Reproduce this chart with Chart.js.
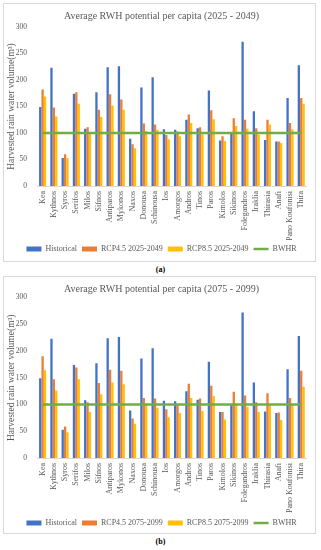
<!DOCTYPE html>
<html>
<head>
<meta charset="utf-8">
<script src="https://cdn.jsdelivr.net/npm/chart.js@4.4.0/dist/chart.umd.min.js"></script>
<style>
  html, body { margin: 0; padding: 0; background: #ffffff; }
  body { width: 321px; height: 550px; position: relative; overflow: hidden; font-family: "Liberation Serif", serif; }
  .frame { position: absolute; box-sizing: border-box; border: 1px solid #D9D9D9; }
  canvas { position: absolute; }
  .cap { position: absolute; left: 0; width: 321px; text-align: center; font-family: "Liberation Serif", serif; font-weight: bold; font-size: 8px; color: #000; }
</style>
</head>
<body>
<div class="frame" style="left:3px;top:3px;width:313px;height:259px;"></div>
<canvas id="chartA" width="313" height="260" style="left:3px;top:3px;"></canvas>
<div class="cap" style="top:265px;">(a)</div>
<div class="frame" style="left:3px;top:276px;width:313px;height:258px;"></div>
<canvas id="chartB" width="313" height="261" style="left:3px;top:276px;"></canvas>
<div class="cap" style="top:537px;">(b)</div>
<script>
const categories = ['Kea','Kythnos','Syros','Serifos','Milos','Sifnos','Antiparos','Mykonos','Naxos','Donousa','Schinousa','Ios','Amorgos','Andros','Tinos','Paros','Kimolos','Sikinos','Folegandros','Iraklia','Thirasia','Anafi','Pano Koufonisi','Thira'];

const historical = [149, 223, 53, 174, 108, 177, 224, 226, 89, 186, 205, 107, 106, 125, 109, 180, 86, 99, 272, 141, 87, 84, 166, 228];

const rcp45_2049 = [182, 148, 60, 177, 111, 144, 173, 163, 79, 118, 116, 96, 103, 135, 111, 143, 94, 128, 125, 109, 125, 84, 119, 166];
const rcp85_2049 = [169, 131, 53, 155, 99, 130, 152, 144, 71, 104, 106, 88, 94, 119, 97, 126, 85, 113, 108, 97, 116, 81, 107, 155];

const rcp45_2099 = [190, 147, 59, 169, 104, 140, 165, 163, 74, 112, 111, 91, 99, 139, 111, 135, 86, 124, 117, 104, 121, 85, 112, 163];
const rcp85_2099 = [164, 126, 48, 147, 86, 119, 141, 138, 64, 99, 94, 76, 84, 112, 88, 116, 72, 102, 96, 86, 99, 71, 99, 133];

const bwhr = [100, 100, 100, 100, 100, 100, 100, 100, 100, 100, 100, 100, 100, 100, 100, 100, 100, 100, 100, 100, 100, 100, 100, 100];

const yTicks = [0, 50, 100, 150, 200, 250, 300];

const seriesNames = {
  a: ['Historical', 'RCP4.5 2025-2049', 'RCP8.5 2025-2049', 'BWHR'],
  b: ['Historical', 'RCP4.5 2075-2099', 'RCP8.5 2075-2099', 'BWHR']
};
const titles = {
  a: 'Average RWH potential per capita (2025 - 2049)',
  b: 'Average RWH potential per capita (2075 - 2099)'
};
const yTitle = 'Harvested rain water volume(m\u00B3)';

const COL = { blue: '#4472C4', orange: '#ED7D31', yellow: '#FFC000', green: '#70AD47', text: '#595959' };
const FAM = '"Liberation Serif", "Times New Roman", serif';

function makeChart(id, key, r45, r85, lay) {
  const names = seriesNames[key];
  const barCommon = { categoryPercentage: 0.64, barPercentage: 0.96, borderWidth: 0, pointStyle: 'rect', order: 1 };
  return new Chart(document.getElementById(id), {
    type: 'bar',
    data: {
      labels: categories,
      datasets: [
        Object.assign({ label: names[0], data: historical, backgroundColor: COL.blue }, barCommon),
        Object.assign({ label: names[1], data: r45, backgroundColor: COL.orange }, barCommon),
        Object.assign({ label: names[2], data: r85, backgroundColor: COL.yellow }, barCommon),
        { type: 'line', label: names[3], data: bwhr, borderColor: COL.green, backgroundColor: COL.green,
          borderWidth: 2.5, pointRadius: 0, pointStyle: 'line', order: 0, tension: 0 }
      ]
    },
    options: {
      responsive: false,
      animation: false,
      devicePixelRatio: 1,
      layout: { padding: { left: 12, right: 8, top: 0, bottom: 0 } },
      plugins: {
        tooltip: { enabled: false },
        title: {
          display: true, text: titles[key], color: COL.text,
          font: { family: FAM, size: 10, weight: 'normal' },
          padding: { top: lay.titleTop, bottom: lay.titleBottom }
        },
        legend: {
          position: 'bottom',
          labels: {
            usePointStyle: true, pointStyleWidth: 15, boxWidth: 15, boxHeight: 5,
            padding: 5, color: COL.text,
            font: { family: FAM, size: 8 },
            sort: (a, b) => a.datasetIndex - b.datasetIndex
          }
        }
      },
      scales: {
        x: {
          offset: true,
          grid: { display: false, drawTicks: false },
          border: { display: true, color: '#D9D9D9', width: 1 },
          ticks: { autoSkip: false, maxRotation: 90, minRotation: 90, padding: 5, color: COL.text,
                   font: { family: FAM, size: 8 } },
          afterFit: (s) => { s.height = lay.xHeight; }
        },
        y: {
          min: 0, max: 300,
          afterBuildTicks: (s) => { s.ticks = yTicks.map(v => ({ value: v })); },
          grid: { display: false, drawTicks: false },
          border: { display: false },
          ticks: { padding: 10, color: COL.text, font: { family: FAM, size: 7.5 } },
          title: { display: true, text: yTitle, color: COL.text, font: { family: FAM, size: 9.5 },
                   padding: { top: -9.7, bottom: 0 } },
          afterFit: (s) => { s.width = 22; }
        }
      }
    }
  });
}

makeChart('chartA', 'a', rcp45_2049, rcp85_2049, { titleTop: 7, titleBottom: 5, xHeight: 54 });
makeChart('chartB', 'b', rcp45_2099, rcp85_2099, { titleTop: 7.5, titleBottom: 2, xHeight: 56 });
</script>
</body>
</html>
